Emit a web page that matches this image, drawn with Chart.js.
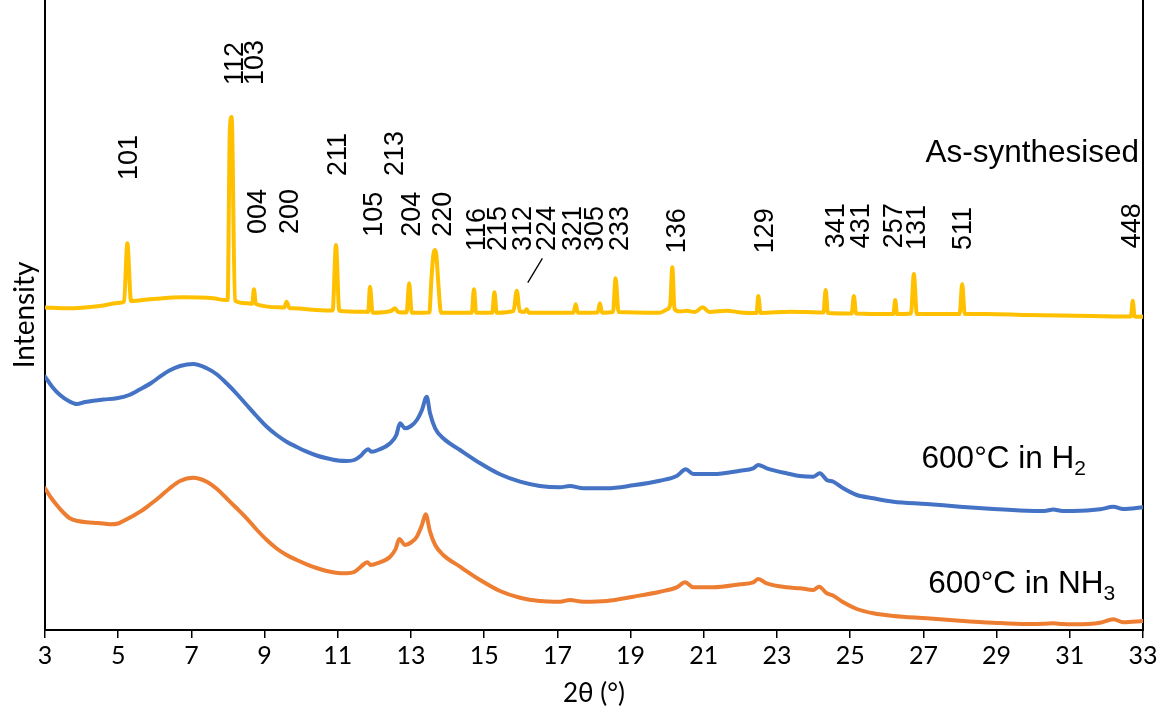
<!DOCTYPE html>
<html>
<head>
<meta charset="utf-8">
<script src="https://cdn.jsdelivr.net/npm/chart.js@4.4.1/dist/chart.umd.min.js"></script>
<style>
  html, body { margin: 0; padding: 0; background: #ffffff; }
  canvas { display: block; }
</style>
</head>
<body>
<canvas id="xrd" width="1163" height="716"></canvas>
<script>
// ---- XRD patterns: 2θ (°) and stacked intensity (a.u.) ----
const asSynTheta = [3.00, 3.59, 4.50, 5.05, 5.16, 5.25, 5.35, 5.87, 6.78, 7.60, 7.92, 7.99, 8.05, 8.10, 8.19,
  8.51, 8.66, 8.71, 8.76, 9.42, 9.54, 9.60, 9.68, 9.78, 10.42, 10.86, 10.95, 11.04, 11.70, 11.83, 11.88, 11.95,
  12.45, 12.56, 12.65, 12.88, 12.95, 13.02, 13.50, 13.56, 13.61, 13.65, 13.69, 13.75, 13.82, 14.66, 14.72, 14.78,
  15.22, 15.28, 15.34, 15.80, 15.89, 15.97, 16.10, 16.16, 16.22, 17.44, 17.50, 17.56, 18.10, 18.16, 18.22, 18.52,
  18.59, 18.67, 19.80, 19.99, 20.08, 20.14, 20.20, 20.35, 20.53, 20.75, 20.97, 21.15, 21.63, 22.00, 22.44, 22.49,
  22.55, 23.36, 24.27, 24.33, 24.39, 25.04, 25.10, 25.16, 26.18, 26.23, 26.28, 26.66, 26.74, 26.82, 27.99, 28.06,
  28.13, 28.73, 29.82, 31.64, 32.67, 32.72, 32.77, 33.00];
const asSynIntensity = [322.5, 321.7, 324, 327.3, 328.3, 386.7, 329, 330.7, 332.7, 331.7, 330, 330, 500, 513, 329.3,
  326.7, 326.2, 340.7, 326, 322.7, 322.5, 328.3, 322, 321.7, 320, 319.5, 385, 319.3, 318.3, 318, 343.3, 317.3,
  319, 321.7, 318, 317.5, 346.7, 317.3, 317.5, 352, 375, 380, 376, 345, 317.3, 317.3, 340.7, 317.3,
  317.3, 337.7, 317.3, 319, 339.3, 319, 318, 320.7, 317.3, 317.3, 325.7, 317.3, 317.5, 326.7, 317.3, 318,
  351.7, 318, 317.3, 320.5, 325, 362.7, 321, 318.5, 319.3, 318, 322.7, 318, 319.3, 317.5, 317, 334,
  317, 318.3, 317.5, 340, 317, 316.5, 334, 316.5, 316, 330, 316, 316.5, 356, 316, 316, 346,
  316, 316, 315, 314, 313.5, 329.3, 313.5, 313.3];

const h2Theta = [3.00, 3.20, 3.41, 3.65, 3.87, 4.10, 4.32, 4.60, 4.96, 5.30, 5.60, 5.90, 6.14, 6.40, 6.69, 7.05,
  7.42, 7.70, 7.96, 8.23, 8.51, 8.78, 9.06, 9.33, 9.60, 9.88, 10.15, 10.42, 10.70, 11.00, 11.24, 11.45, 11.62,
  11.75, 11.83, 11.92, 12.10, 12.43, 12.60, 12.70, 12.84, 13.00, 13.16, 13.30, 13.43, 13.52, 13.66, 13.88, 14.34,
  14.89, 15.43, 15.98, 16.52, 17.07, 17.34, 17.71, 18.35, 19.07, 19.80, 20.26, 20.51, 20.71, 21.26, 21.99, 22.35,
  22.49, 22.72, 23.26, 23.63, 23.99, 24.17, 24.36, 24.54, 24.81, 25.18, 25.63, 26.18, 27.09, 28.00, 28.91, 29.82,
  30.30, 30.55, 30.80, 31.10, 31.83, 32.19, 32.46, 33.00];
const h2Intensity = [253.3, 243, 235, 229, 226, 228, 229.3, 230.5, 231.7, 235, 240.7, 247, 253.3, 259.5, 264, 266,
  261.7, 255.5, 246.7, 236.5, 225, 214, 203.3, 195, 188.3, 183, 178.3, 174.5, 171.7, 169.5, 169, 170, 174,
  179, 180.7, 178.3, 180, 186.7, 195, 206.7, 201.7, 204, 210, 220, 233.3, 216.7, 201.7, 191.7, 180,
  166.7, 155.7, 148.3, 144, 142.7, 144, 141.7, 141.7, 144.7, 149.3, 154, 160.7, 156, 156, 159.3, 161.7,
  165, 161.7, 156.7, 154, 153.3, 156.7, 150, 148.3, 141.7, 135, 131.7, 128.3, 126, 123.3, 121, 119.3,
  119, 120.5, 119, 119, 120.7, 123.3, 121, 122.7];

const nh3Theta = [3.00, 3.15, 3.32, 3.50, 3.68, 3.90, 4.14, 4.45, 4.78, 5.00, 5.14, 5.35, 5.60, 5.87, 6.14, 6.40,
  6.69, 7.05, 7.42, 7.70, 7.96, 8.23, 8.51, 8.78, 9.06, 9.33, 9.60, 9.88, 10.15, 10.42, 10.70, 11.00, 11.24,
  11.45, 11.56, 11.70, 11.81, 11.90, 12.10, 12.43, 12.58, 12.68, 12.84, 13.00, 13.16, 13.30, 13.40, 13.52, 13.66,
  13.88, 14.34, 14.89, 15.43, 15.98, 16.52, 17.07, 17.34, 17.71, 18.35, 19.07, 19.80, 20.26, 20.49, 20.71, 21.26,
  21.99, 22.35, 22.49, 22.72, 23.26, 23.63, 23.99, 24.15, 24.36, 24.54, 24.81, 25.18, 25.63, 26.18, 27.09, 28.00,
  28.91, 29.82, 30.30, 30.55, 30.80, 31.10, 31.83, 32.19, 32.46, 33.00];
const nh3Intensity = [141.7, 133, 125, 117.5, 111.7, 109, 107.7, 107, 105.7, 106.5, 109, 113, 118.3, 125.5, 133.3, 141.5,
  149, 152.3, 148.3, 141, 131.7, 122, 111.7, 100.5, 90, 81.5, 75, 70, 65.7, 62, 59, 57, 56.7,
  58, 61, 65.5, 67.7, 65, 67, 73.3, 81, 91, 85, 87.5, 93.3, 105, 115.7, 98.3, 85,
  75, 63.3, 50, 39, 32.3, 29, 28.3, 30, 28.3, 29, 33.3, 38.3, 42.7, 47.7, 42.7, 42.7,
  45.7, 47.7, 51, 46.7, 42.7, 41.7, 40, 43.3, 36.7, 34.3, 27.7, 21, 16.7, 14, 11.7, 9.3,
  7.3, 6, 6.2, 6.7, 5.9, 5.7, 7.3, 10.7, 7.7, 9];

// ---- axis ----
const xTicks = [3, 5, 7, 9, 11, 13, 15, 17, 19, 21, 23, 25, 27, 29, 31, 33];

// ---- reflection indices (hkl), label centre (2θ) and label foot (a.u.) ----
const peakLabels = ['112', '103', '101', '004', '200', '211', '105', '213', '204', '220', '116', '215', '312', '224',
  '321', '305', '233', '136', '129', '341', '431', '257', '131', '511', '448'];
const peakLabelTheta = [8.14, 8.68, 5.25, 8.77, 9.65, 10.97, 11.93, 12.51, 12.97, 13.84, 14.75, 15.34, 16.02, 16.66,
  17.39, 17.98, 18.66, 20.21, 22.62, 24.56, 25.25, 26.16, 26.77, 28.05, 32.65];
const peakLabelBase = [545, 545, 450, 396, 396, 454, 393.3, 454, 393.3, 393.3, 379, 379, 379, 379,
  379, 379, 379, 376.7, 376.7, 381.7, 381.7, 381.7, 380, 380, 381.7];

// leader from the 224 label down to its weak reflection
const leaderTheta = [16.59, 16.19];
const leaderIntensity = [371.7, 347.3];

// ---- sample names (main text + subscript) ----
const sampleNames = ['As-synthesised', '600°C in H', '600°C in NH'];
const sampleSubs = ['', '2', '3'];
const sampleTheta = [32.89, 26.95, 27.13];
const sampleBase = [468.3, 162, 36.7];
const sampleAlign = ['right', 'left', 'left'];

const colours = ['#FFC000', '#4472C4', '#ED7D31'];

const toPoints = (xs, ys) => xs.map((v, i) => ({ x: v, y: ys[i] }));

const LABEL_FONT = '"Liberation Sans", Arial, sans-serif';
const AXIS_FONT = 'Lato, "Liberation Sans", sans-serif';

const annotations = {
  id: 'annotations',
  afterDatasetsDraw(chart) {
    const { ctx } = chart;
    const x = chart.scales.x, y = chart.scales.y;
    ctx.save();
    ctx.fillStyle = '#000';

    // rotated hkl labels
    const size = 27;
    ctx.font = size + 'px ' + LABEL_FONT;
    ctx.textAlign = 'left';
    ctx.textBaseline = 'alphabetic';
    const cap = 0.716 * size;
    peakLabels.forEach((t, i) => {
      ctx.save();
      ctx.translate(x.getPixelForValue(peakLabelTheta[i]), y.getPixelForValue(peakLabelBase[i]));
      ctx.rotate(-Math.PI / 2);
      ctx.fillText(t, 0, cap / 2);
      ctx.restore();
    });

    // leader line
    ctx.strokeStyle = '#000';
    ctx.lineWidth = 1.3;
    ctx.beginPath();
    ctx.moveTo(x.getPixelForValue(leaderTheta[0]), y.getPixelForValue(leaderIntensity[0]));
    ctx.lineTo(x.getPixelForValue(leaderTheta[1]), y.getPixelForValue(leaderIntensity[1]));
    ctx.stroke();

    // sample names with subscripts
    const nameSize = 31.5, subSize = 21;
    sampleNames.forEach((t, i) => {
      ctx.font = nameSize + 'px ' + LABEL_FONT;
      const mainW = ctx.measureText(t).width;
      ctx.font = subSize + 'px ' + LABEL_FONT;
      const subW = sampleSubs[i] ? ctx.measureText(sampleSubs[i]).width : 0;
      let px = x.getPixelForValue(sampleTheta[i]);
      const py = y.getPixelForValue(sampleBase[i]);
      if (sampleAlign[i] === 'right') px -= mainW + subW;
      ctx.textAlign = 'left';
      ctx.font = nameSize + 'px ' + LABEL_FONT;
      ctx.fillText(t, px, py);
      if (sampleSubs[i]) {
        ctx.font = subSize + 'px ' + LABEL_FONT;
        ctx.fillText(sampleSubs[i], px + mainW, py + 7);
      }
    });
    ctx.restore();
  }
};

new Chart(document.getElementById('xrd'), {
  type: 'line',
  data: {
    datasets: [
      { label: sampleNames[0], data: toPoints(asSynTheta, asSynIntensity), borderColor: colours[0] },
      { label: sampleNames[1] + sampleSubs[1], data: toPoints(h2Theta, h2Intensity), borderColor: colours[1] },
      { label: sampleNames[2] + sampleSubs[2], data: toPoints(nh3Theta, nh3Intensity), borderColor: colours[2] }
    ]
  },
  options: {
    responsive: false,
    animation: false,
    devicePixelRatio: 1,
    layout: { padding: 0 },
    datasets: {
      line: {
        borderWidth: 4,
        pointRadius: 0,
        fill: false,
        cubicInterpolationMode: 'monotone',
        borderJoinStyle: 'round',
        borderCapStyle: 'round'
      }
    },
    plugins: { legend: { display: false }, tooltip: { enabled: false } },
    scales: {
      x: {
        type: 'linear',
        min: 3,
        max: 33,
        afterBuildTicks: s => { s.ticks = xTicks.map(v => ({ value: v })); },
        afterFit: s => { s.height = 86; },
        ticks: { color: '#000', font: { family: AXIS_FONT, size: 25 }, padding: 3, maxRotation: 0, autoSkip: false },
        grid: { drawOnChartArea: false, drawTicks: true, tickLength: 8, color: '#000', lineWidth: 1.5 },
        border: { color: '#000', width: 2 },
        title: { display: true, text: '2θ (°)', color: '#000', font: { family: AXIS_FONT, size: 26 }, padding: { top: 0, bottom: 7 } }
      },
      y: {
        type: 'linear',
        min: 0,
        max: 630,
        afterFit: s => { s.width = 45; },
        ticks: { display: false },
        grid: { display: false },
        border: { color: '#000', width: 2 },
        title: { display: true, text: 'Intensity', color: '#000', font: { family: AXIS_FONT, size: 28 }, padding: { top: 8, bottom: 0 } }
      },
      y2: {
        type: 'linear',
        position: 'right',
        min: 0,
        max: 630,
        afterFit: s => { s.width = 20; },
        ticks: { display: false },
        grid: { display: false },
        border: { color: '#000', width: 2 }
      }
    }
  },
  plugins: [annotations]
});
</script>
</body>
</html>
